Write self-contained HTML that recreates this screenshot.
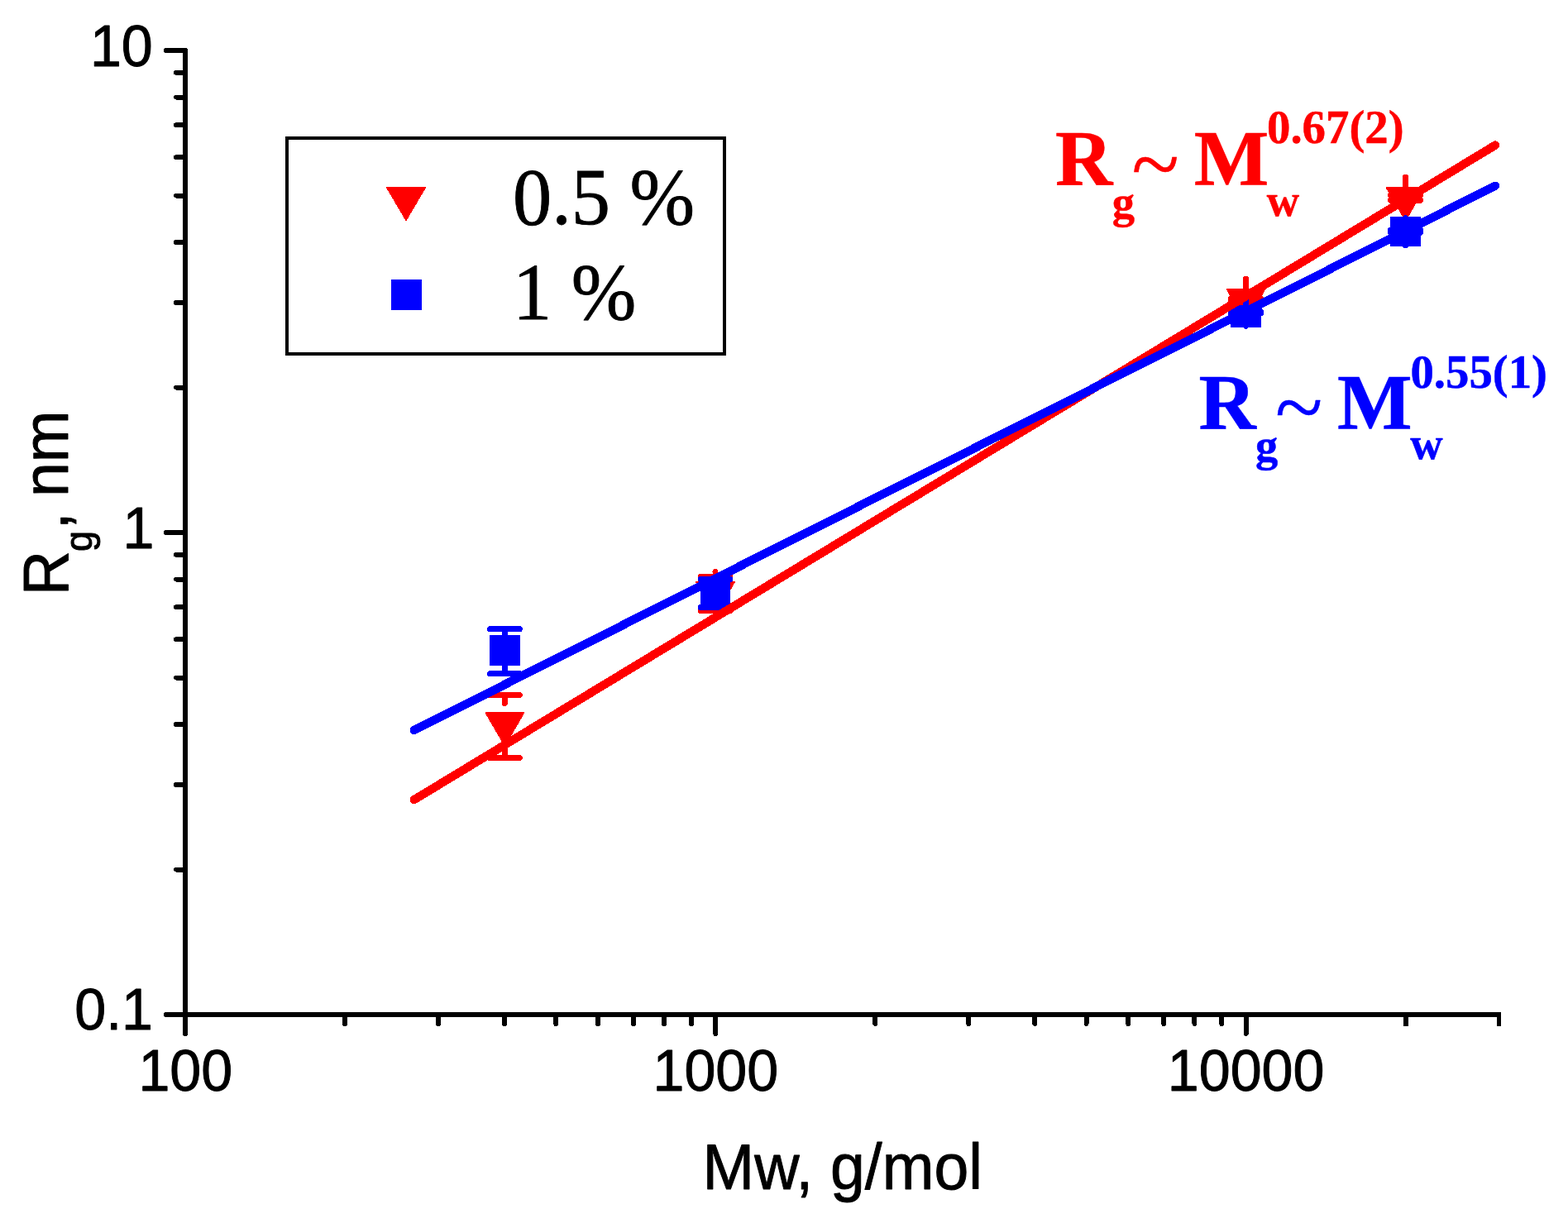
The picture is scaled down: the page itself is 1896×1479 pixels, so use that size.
<!DOCTYPE html>
<html lang="en"><head><meta charset="utf-8"><title>Rg vs Mw</title>
<style>
html,body{margin:0;padding:0;background:#fff;}
body{width:1896px;height:1479px;overflow:hidden;}
svg{display:block;}
.sans{font-family:"Liberation Sans",sans-serif;fill:#000;stroke:#000;stroke-width:0.9px;stroke-linejoin:round;}
.serif{font-family:"Liberation Serif",serif;}
.b{font-weight:bold;}
</style></head><body>
<svg width="1896" height="1479" viewBox="0 0 1896 1479" role="img" aria-label="Radius of gyration versus molecular weight, log-log plot">
<rect x="0" y="0" width="1896" height="1479" fill="#ffffff"/>
<g stroke="#000" stroke-width="6" fill="none" stroke-linecap="round" shape-rendering="crispEdges">
<path d="M224 61 V1227"/>
<path d="M224 1227 H1815" stroke-linecap="butt"/>
<path d="M224 61 H201"/>
<path d="M224 644 H201"/>
<path d="M224 1227 H201"/>
<path d="M224 468.5 H213"/>
<path d="M224 365.84 H213"/>
<path d="M224 293 H213"/>
<path d="M224 236.5 H213"/>
<path d="M224 190.34 H213"/>
<path d="M224 151.31 H213"/>
<path d="M224 117.5 H213"/>
<path d="M224 87.68 H213"/>
<path d="M224 1051.5 H213"/>
<path d="M224 948.84 H213"/>
<path d="M224 876 H213"/>
<path d="M224 819.5 H213"/>
<path d="M224 773.34 H213"/>
<path d="M224 734.31 H213"/>
<path d="M224 700.5 H213"/>
<path d="M224 670.68 H213"/>
<path d="M224 1227 V1250"/>
<path d="M865.3 1227 V1250"/>
<path d="M1506.6 1227 V1250"/>
<path d="M417.05 1227 V1238"/>
<path d="M529.98 1227 V1238"/>
<path d="M610.1 1227 V1238"/>
<path d="M672.25 1227 V1238"/>
<path d="M723.03 1227 V1238"/>
<path d="M765.96 1227 V1238"/>
<path d="M803.15 1227 V1238"/>
<path d="M835.96 1227 V1238"/>
<path d="M1058.35 1227 V1238"/>
<path d="M1171.28 1227 V1238"/>
<path d="M1251.4 1227 V1238"/>
<path d="M1313.55 1227 V1238"/>
<path d="M1364.33 1227 V1238"/>
<path d="M1407.26 1227 V1238"/>
<path d="M1444.45 1227 V1238"/>
<path d="M1477.26 1227 V1238"/>
<path d="M1699.65 1227 V1241" stroke-linecap="butt"/>
<path d="M1812.5 1227 V1241" stroke-width="5" stroke-linecap="butt"/>
</g>
<g class="sans">
<text transform="translate(184.8 80.3) scale(1 1.02)" font-size="68.2" text-anchor="end">10</text>
<text transform="translate(186.5 663.2) scale(1 1.02)" font-size="68.2" text-anchor="end">1</text>
<text transform="translate(185 1245) scale(1 1.02)" font-size="68.2" text-anchor="end">0.1</text>
<text transform="translate(224.3 1319) scale(1 1.02)" font-size="68.2" text-anchor="middle">100</text>
<text transform="translate(865.3 1319) scale(1 1.02)" font-size="68.2" text-anchor="middle">1000</text>
<text transform="translate(1506.6 1319) scale(1 1.02)" font-size="68.2" text-anchor="middle">10000</text>
</g>
<g class="sans">
<text transform="translate(849.5 1438.2) scale(1 1.04)" font-size="75.2">Mw, g/mol</text>
</g>
<g class="sans" transform="translate(82.1 720.3) rotate(-90)">
<text transform="translate(0 0) scale(1 1.04)" font-size="75.2">R</text>
<text transform="translate(53.2 29) scale(1 1.04)" font-size="45">g</text>
<text transform="translate(80 0) scale(1 1.04)" font-size="75.2">,</text>
<text transform="translate(119.3 0) scale(1 1.04)" font-size="75.2">nm</text>
</g>
<rect x="347.2" y="167" width="528.8" height="260.8" fill="#fff" stroke="#000" stroke-width="4" shape-rendering="crispEdges"/>
<polygon points="467.2,226.4 514.8,226.4 491,266.8" fill="#ff0000" stroke="#ff0000" stroke-width="1" stroke-linejoin="round" shape-rendering="crispEdges"/>
<rect x="473" y="338" width="37" height="37" fill="#0000ff" shape-rendering="crispEdges"/>
<g class="serif" fill="#000" stroke="#000" stroke-width="0.8" stroke-linejoin="round">
<text transform="translate(620.1 271.3) scale(1 1.03)" font-size="94.3">0.5 %</text>
<text transform="translate(620.1 386) scale(1 1.03)" font-size="94.3">1 %</text>
</g>
<g shape-rendering="crispEdges">
<polygon points="587.2,861.85 633.6,861.85 610.4,901.9" fill="#ff0000" stroke="#ff0000" stroke-width="1.5" stroke-linejoin="round"/>
<polygon points="841.8,703.75 888.2,703.75 865,743.8" fill="#ff0000" stroke="#ff0000" stroke-width="1.5" stroke-linejoin="round"/>
<polygon points="1483.3,349.55 1529.7,349.55 1506.5,389.6" fill="#ff0000" stroke="#ff0000" stroke-width="1.5" stroke-linejoin="round"/>
<polygon points="1676.3,226.65 1722.7,226.65 1699.5,266.7" fill="#ff0000" stroke="#ff0000" stroke-width="1.5" stroke-linejoin="round"/>
<rect x="592" y="768" width="37" height="37" fill="#0000ff"/>
<rect x="847" y="698.5" width="36" height="37" fill="#0000ff"/>
<rect x="1488" y="359" width="37" height="37" fill="#0000ff"/>
<rect x="1681" y="262" width="37" height="36" fill="#0000ff"/>
<g stroke="#ff0000" stroke-width="7" stroke-linecap="round" fill="none"><path d="M592.5 840.6 H628.3"/><path d="M592.5 916.5 H628.3"/><path d="M610.4 840.6 V850.5"/><path d="M610.4 916.5 V899.6"/></g>
<g stroke="#ff0000" stroke-width="7" stroke-linecap="round" fill="none"><path d="M847.1 697.5 H882.9"/><path d="M847.1 738.4 H882.9"/><path d="M865 697.5 V691.5"/><path d="M865 738.4 V741.5"/></g>
<g stroke="#ff0000" stroke-width="7" stroke-linecap="round" fill="none"><path d="M1488.6 360.8 H1524.4"/><path d="M1488.6 365 H1524.4"/><path d="M1506.5 360.8 V337.3"/><path d="M1506.5 365 V387.3"/></g>
<g stroke="#ff0000" stroke-width="7" stroke-linecap="round" fill="none"><path d="M1681.6 236.3 H1717.4"/><path d="M1681.6 242.3 H1717.4"/><path d="M1699.5 236.3 V214.4"/><path d="M1699.5 242.3 V264.4"/></g>
<g stroke="#0000ff" stroke-width="7" stroke-linecap="round" fill="none"><path d="M592.5 760.8 H628.3"/><path d="M592.5 814.5 H628.3"/><path d="M610.4 760.8 V769.8"/><path d="M610.4 814.5 V803.3"/></g>
<g stroke="#0000ff" stroke-width="7" stroke-linecap="round" fill="none"><path d="M847.1 700.3 H882.9"/><path d="M847.1 734.5 H882.9"/><path d="M865 700.3 V700.3"/><path d="M865 734.5 V733.8"/></g>
<g stroke="#0000ff" stroke-width="7" stroke-linecap="round" fill="none"><path d="M1488.6 376.6 H1524.4"/><path d="M1488.6 378.7 H1524.4"/><path d="M1506.5 376.6 V360.7"/><path d="M1506.5 378.7 V394.2"/></g>
<g stroke="#0000ff" stroke-width="7" stroke-linecap="round" fill="none"><path d="M1681.6 277.9 H1717.4"/><path d="M1681.6 281.5 H1717.4"/><path d="M1699.5 277.9 V263.5"/><path d="M1699.5 281.5 V297"/></g>
<path d="M500.8 967.1 L1808 175.6" stroke="#ff0000" stroke-width="10.3" stroke-linecap="round" fill="none"/>
<path d="M500.8 883 L1808 224.8" stroke="#0000ff" stroke-width="10.3" stroke-linecap="round" fill="none"/>
</g>
<g class="serif b" fill="#ff0000" stroke="#ff0000" stroke-width="0.5" stroke-linejoin="round"><text font-size="96" x="1276.1" y="224.3">R</text><text font-size="54.5" x="1344.7" y="262.5">g</text><text font-size="106" font-weight="normal" x="1368.6" y="233.7">~</text><text font-size="96" x="1443.7" y="224.3">M</text><text font-size="54.5" x="1531.8" y="260.9">w</text><text font-size="56.8" x="1532" y="172.9">0.67(2)</text></g>
<g class="serif b" fill="#0000ff" stroke="#0000ff" stroke-width="0.5" stroke-linejoin="round"><text font-size="96" x="1449.5" y="518.7">R</text><text font-size="54.5" x="1518.1" y="556.9">g</text><text font-size="106" font-weight="normal" x="1542" y="528.1">~</text><text font-size="96" x="1617.1" y="518.7">M</text><text font-size="54.5" x="1705.2" y="555.3">w</text><text font-size="56.8" x="1705.4" y="468.5">0.55(1)</text></g>
</svg>
</body></html>
